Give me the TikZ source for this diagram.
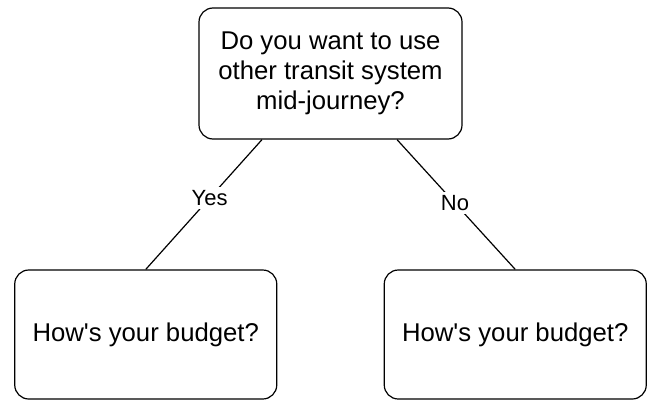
\documentclass[tikz,border=0pt]{standalone}
\usepackage{fontspec}
\setmainfont{Liberation Sans}

\begin{document}
\begin{tikzpicture}[x=1pt,y=1pt,level distance=261pt,
            level 1/.style={sibling distance=369.5pt},
            edge from parent/.style={draw,line width=1.2pt}]
        \tikzstyle{every node}=[draw,rounded corners=14pt,line width=1.2pt,align=center,font=\fontsize{25.7}{30}\selectfont]
        \tikzstyle{answer}=[draw=none,fill=white,rounded corners=0pt,font=\fontsize{22}{26}\selectfont]
        \useasboundingbox (0,0) rectangle (652,-401);
        \node[minimum width=263pt,minimum height=131pt] (transit) at (330.5,-73.5) {Do you want to use\\other transit system\\mid-journey?}
        child[edge from parent path={([xshift=-68.5pt]\tikzparentnode.south) -- (\tikzchildnode.north)}]
            {node[minimum width=262pt,minimum height=129pt] (budgetyes) {How\textquotesingle s your budget?}
                edge from parent node[answer,pos=0.45] {Yes}
            }
        child[edge from parent path={([xshift=66.5pt]\tikzparentnode.south) -- (\tikzchildnode.north)}]
            {node[minimum width=262pt,minimum height=129pt] (budgetno) {How\textquotesingle s your budget?}
                edge from parent node[answer,pos=0.49] {No}
            };
    \end{tikzpicture}
\end{document}
